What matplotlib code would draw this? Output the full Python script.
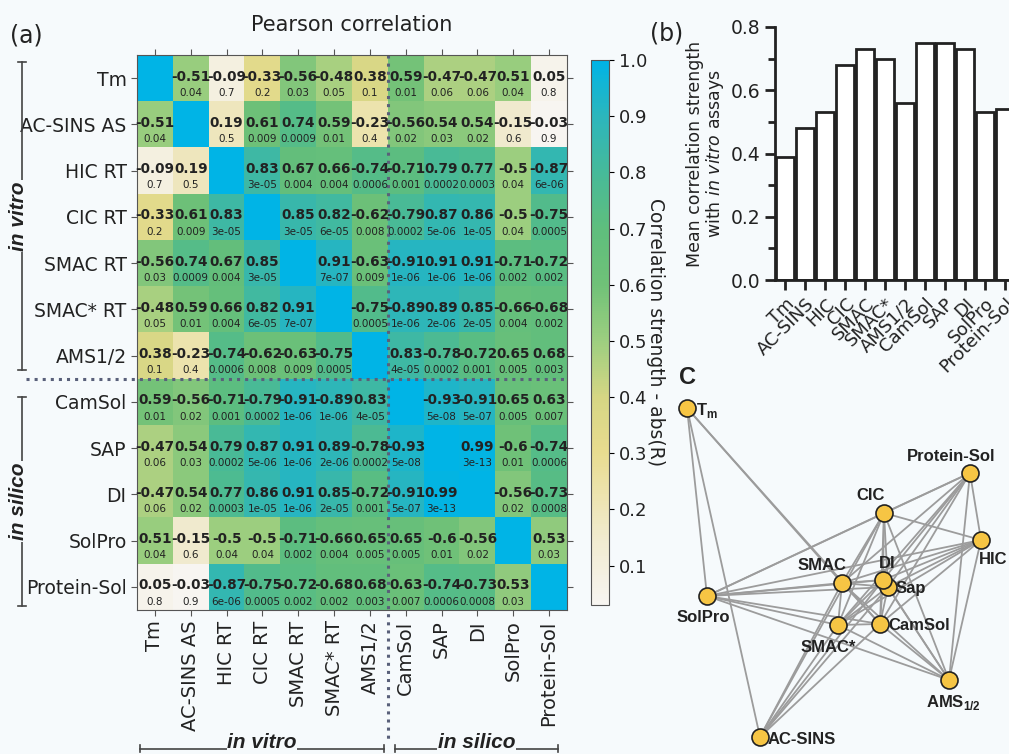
import numpy as np
import matplotlib
matplotlib.use('Agg')
import matplotlib.pyplot as plt
from matplotlib.colors import LinearSegmentedColormap
from matplotlib.lines import Line2D

plt.rcParams['mathtext.fontset'] = 'custom'
plt.rcParams['mathtext.rm'] = 'DejaVu Sans'
plt.rcParams['mathtext.it'] = 'DejaVu Sans:italic'
plt.rcParams['mathtext.bf'] = 'Liberation Sans:bold'

W, H = 1009, 754
BG = '#f6fafc'

# ---- data: panel (a) ----
labels = ['Tm', 'AC-SINS AS', 'HIC RT', 'CIC RT', 'SMAC RT', 'SMAC* RT', 'AMS1/2',
          'CamSol', 'SAP', 'DI', 'SolPro', 'Protein-Sol']

R = [
    [1.00, -0.51, -0.09, -0.33, -0.56, -0.48, 0.38, 0.59, -0.47, -0.47, 0.51, 0.05],
    [-0.51, 1.00, 0.19, 0.61, 0.74, 0.59, -0.23, -0.56, 0.54, 0.54, -0.15, -0.03],
    [-0.09, 0.19, 1.00, 0.83, 0.67, 0.66, -0.74, -0.71, 0.79, 0.77, -0.50, -0.87],
    [-0.33, 0.61, 0.83, 1.00, 0.85, 0.82, -0.62, -0.79, 0.87, 0.86, -0.50, -0.75],
    [-0.56, 0.74, 0.67, 0.85, 1.00, 0.91, -0.63, -0.91, 0.91, 0.91, -0.71, -0.72],
    [-0.48, 0.59, 0.66, 0.82, 0.91, 1.00, -0.75, -0.89, 0.89, 0.85, -0.66, -0.68],
    [0.38, -0.23, -0.74, -0.62, -0.63, -0.75, 1.00, 0.83, -0.78, -0.72, 0.65, 0.68],
    [0.59, -0.56, -0.71, -0.79, -0.91, -0.89, 0.83, 1.00, -0.93, -0.91, 0.65, 0.63],
    [-0.47, 0.54, 0.79, 0.87, 0.91, 0.89, -0.78, -0.93, 1.00, 0.99, -0.60, -0.74],
    [-0.47, 0.54, 0.77, 0.86, 0.91, 0.85, -0.72, -0.91, 0.99, 1.00, -0.56, -0.73],
    [0.51, -0.15, -0.50, -0.50, -0.71, -0.66, 0.65, 0.65, -0.60, -0.56, 1.00, 0.53],
    [0.05, -0.03, -0.87, -0.75, -0.72, -0.68, 0.68, 0.63, -0.74, -0.73, 0.53, 1.00],
]

P = [
    ['', '0.04', '0.7', '0.2', '0.03', '0.05', '0.1', '0.01', '0.06', '0.06', '0.04', '0.8'],
    ['0.04', '', '0.5', '0.009', '0.0009', '0.01', '0.4', '0.02', '0.03', '0.02', '0.6', '0.9'],
    ['0.7', '0.5', '', '3e-05', '0.004', '0.004', '0.0006', '0.001', '0.0002', '0.0003', '0.04', '6e-06'],
    ['0.2', '0.009', '3e-05', '', '3e-05', '6e-05', '0.008', '0.0002', '5e-06', '1e-05', '0.04', '0.0005'],
    ['0.03', '0.0009', '0.004', '3e-05', '', '7e-07', '0.009', '1e-06', '1e-06', '1e-06', '0.002', '0.002'],
    ['0.05', '0.01', '0.004', '6e-05', '7e-07', '', '0.0005', '1e-06', '2e-06', '2e-05', '0.004', '0.002'],
    ['0.1', '0.4', '0.0006', '0.008', '0.009', '0.0005', '', '4e-05', '0.0002', '0.001', '0.005', '0.003'],
    ['0.01', '0.02', '0.001', '0.0002', '1e-06', '1e-06', '4e-05', '', '5e-08', '5e-07', '0.005', '0.007'],
    ['0.06', '0.03', '0.0002', '5e-06', '1e-06', '2e-06', '0.0002', '5e-08', '', '3e-13', '0.01', '0.0006'],
    ['0.06', '0.02', '0.0003', '1e-05', '1e-06', '2e-05', '0.001', '5e-07', '3e-13', '', '0.02', '0.0008'],
    ['0.04', '0.6', '0.04', '0.04', '0.002', '0.004', '0.005', '0.005', '0.01', '0.02', '', '0.03'],
    ['0.8', '0.9', '6e-06', '0.0005', '0.002', '0.002', '0.003', '0.007', '0.0006', '0.0008', '0.03', ''],
]

# ---- data: panel (b) ----
bar_labels = ['Tm', 'AC-SINS', 'HIC', 'CIC', 'SMAC', 'SMAC*', 'AMS1/2',
              'CamSol', 'SAP', 'DI', 'SolPro', 'Protein-Sol']
bar_values = [0.39, 0.48, 0.53, 0.68, 0.73, 0.70, 0.56, 0.75, 0.75, 0.73, 0.53, 0.54]

# ---- data: panel (C), network layout (same node order as R) ----
net_labels = [r'T$_\mathbf{m}$', 'AC-SINS', 'HIC', 'CIC', 'SMAC', 'SMAC*',
              r'AMS$_\mathbf{1/2}$', 'CamSol', 'Sap', 'DI', 'SolPro', 'Protein-Sol']
node_x = [27, 100, 321, 224, 182, 178, 289, 220, 228, 223, 47, 310]
node_y = [28, 357, 160, 133, 203, 245, 300, 244, 207, 200, 216, 93]
edge_cut = 0.5

# label placement around each node: (dx, dy, ha)
label_pos = [(9, 2, 'left'), (8, 2, 'left'), (12, 20, 'center'), (-13, -18, 'center'),
             (-20, -18, 'center'), (-10, 22, 'center'), (4, 22, 'center'), (8, 1, 'left'),
             (8, 1, 'left'), (4, -16, 'center'), (-4, 21, 'center'), (-19, -17, 'center')]

absR = np.abs(np.array(R))
n = len(labels)

cmap = LinearSegmentedColormap.from_list('corr', [
    (0.00, '#f7f5f1'), (0.12, '#f1ebcf'), (0.28, '#e8dc8f'), (0.38, '#d6d684'),
    (0.48, '#9fcf80'), (0.59, '#6fc178'), (0.69, '#5fbe7d'), (0.79, '#48ba98'),
    (0.90, '#2bb6bd'), (1.00, '#00b4e6')])


def fx(x):
    return x / W


def fy(y):
    return 1 - y / H


fig = plt.figure(figsize=(W / 100, H / 100), dpi=100, facecolor=BG)

# ---------------- (a) heatmap ----------------
ax = fig.add_axes([fx(137), fy(610), 430 / W, 555 / H])
im = ax.imshow(absR, cmap=cmap, vmin=0.03, vmax=1.0, aspect='auto')
for i in range(n):
    for j in range(n):
        if i == j:
            continue
        ax.text(j, i - 0.03, f'{R[i][j]:g}', ha='center', va='center',
                fontsize=9.8, fontweight='bold', color='#222222')
        ax.text(j, i + 0.32, P[i][j], ha='center', va='center',
                fontsize=7.5, color='#222222')

ax.set_xticks(range(n))
ax.set_yticks(range(n))
ax.set_xticklabels(labels, rotation=90, fontsize=14, color='#222222')
ax.set_yticklabels(labels, fontsize=13.5, color='#222222')
ax.tick_params(top=True, right=True, direction='out', length=4, color='#555555')
for s in ax.spines.values():
    s.set_color('#555555')
ax.set_title('Pearson correlation', fontsize=15, color='#222222', pad=17)

# dotted split between in vitro / in silico
ax.plot([-3.6, n - 0.5], [6.5, 6.5], ls=':', lw=2.2, color='#59607a', clip_on=False)
ax.plot([6.5, 6.5], [-0.5, 14.3], ls=':', lw=2.2, color='#59607a', clip_on=False)
ax.set_xlim(-0.5, n - 0.5)
ax.set_ylim(n - 0.5, -0.5)

# colorbar
cax = fig.add_axes([fx(591), fy(605), 18 / W, 545 / H])
cb = fig.colorbar(im, cax=cax, ticks=np.arange(0.1, 1.01, 0.1))
cb.ax.set_yticklabels([f'{t:.1f}' for t in np.arange(0.1, 1.01, 0.1)], fontsize=13, color='#222222')
cb.outline.set_edgecolor('#555555')
cb.set_label('Correlation strength - abs(R)', rotation=270, fontsize=13.5,
             labelpad=13, color='#222222')

# group brackets
grp_font = dict(family='Liberation Sans', fontweight='bold', style='italic',
                fontsize=15, color='#222222')


def vbracket(x, y0, y1, text):
    fig.add_artist(Line2D([fx(x), fx(x)], [fy(y0), fy(y1)], color='#444444', lw=1.2))
    for y in (y0, y1):
        fig.add_artist(Line2D([fx(x - 4), fx(x + 4)], [fy(y), fy(y)], color='#444444', lw=1.2))
    fig.text(fx(x - 3), fy((y0 + y1) / 2), text, rotation=90, ha='center', va='center',
             bbox=dict(facecolor=BG, edgecolor='none', pad=1), **grp_font)


def hbracket(y, x0, x1, text):
    fig.add_artist(Line2D([fx(x0), fx(x1)], [fy(y), fy(y)], color='#444444', lw=1.2))
    for x in (x0, x1):
        fig.add_artist(Line2D([fx(x), fx(x)], [fy(y - 4), fy(y + 3)], color='#444444', lw=1.2))
    fig.text(fx((x0 + x1) / 2), fy(y - 6), text, ha='center', va='center',
             bbox=dict(facecolor=BG, edgecolor='none', pad=0.5), **grp_font)


vbracket(22, 62, 370, 'in vitro')
vbracket(22, 397, 606, 'in silico')
hbracket(749, 140, 384, 'in vitro')
hbracket(749, 395, 558, 'in silico')

fig.text(fx(10), fy(36), '(a)', fontsize=17, color='#222222', va='center')

# ---------------- (b) bar chart ----------------
ax2 = fig.add_axes([fx(775), fy(280), 240 / W, 253 / H])
ax2.set_facecolor(BG)
x = np.arange(len(bar_values))
ax2.bar(x, bar_values, width=0.93, color='white', edgecolor='#222222', linewidth=2)
ax2.set_xlim(-0.5, len(bar_values) - 0.5)
ax2.set_ylim(0, 0.8)
ax2.set_yticks(np.arange(0, 0.81, 0.2))
ax2.set_yticks(np.arange(0.1, 0.8, 0.2), minor=True)
ax2.set_yticklabels([f'{t:.1f}' for t in np.arange(0, 0.81, 0.2)], fontsize=13.5, color='#222222')
ax2.set_xticks(x)
ax2.set_xticklabels(bar_labels, rotation=45, ha='right', rotation_mode='anchor',
                    fontsize=13, color='#222222')
ax2.tick_params(which='both', direction='out', width=2, color='#222222')
ax2.tick_params(which='major', length=7)
ax2.tick_params(which='minor', length=5)
for s in ('top', 'right'):
    ax2.spines[s].set_visible(False)
for s in ('left', 'bottom'):
    ax2.spines[s].set_linewidth(2)
    ax2.spines[s].set_color('#222222')
ax2.set_ylabel('Mean correlation strength\nwith $\\it{in\\ vitro}$ assays', fontsize=12.5,
               color='#222222', labelpad=3, linespacing=1.0)
fig.text(fx(650), fy(33), '(b)', fontsize=17, color='#222222', va='center')

# ---------------- (C) network ----------------
ax3 = fig.add_axes([fx(660), 0, 349 / W, 374 / H])
ax3.set_xlim(0, 349)
ax3.set_ylim(374, 0)
ax3.axis('off')
for i in range(n):
    for j in range(i + 1, n):
        if absR[i, j] >= edge_cut:
            ax3.plot([node_x[i], node_x[j]], [node_y[i], node_y[j]],
                     color='#9c9c9c', lw=1.3, zorder=1)
for i in range(n):
    ax3.scatter(node_x[i], node_y[i], s=150, color='#f6c544', edgecolor='#222222',
                linewidth=1.2, zorder=3 + i)
    dx, dy, ha = label_pos[i]
    ax3.text(node_x[i] + dx, node_y[i] + dy, net_labels[i], ha=ha, va='center',
             family='Liberation Sans', fontweight='bold', fontsize=12, color='#222222',
             zorder=20)
fig.text(fx(679), fy(389), 'C', family='Liberation Sans', fontweight='bold',
         fontsize=17, color='#222222', va='bottom')

fig.savefig('out.png', dpi=100, facecolor=BG)
